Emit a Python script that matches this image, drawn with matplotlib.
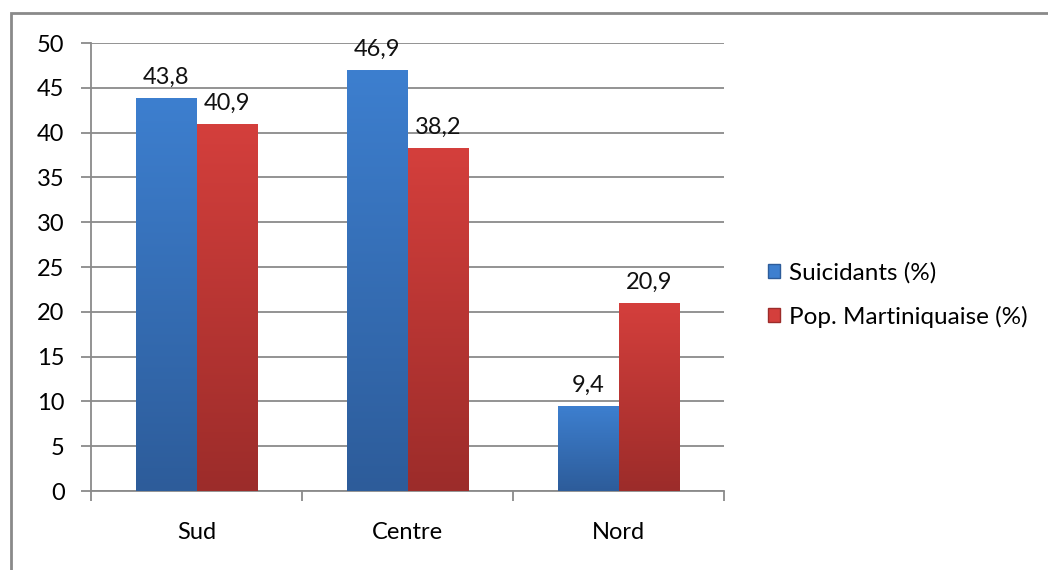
import matplotlib
matplotlib.use("Agg")
import matplotlib.pyplot as plt
import numpy as np
from matplotlib.colors import LinearSegmentedColormap
from matplotlib.patches import Patch, Rectangle

plt.rcParams['font.family'] = ['Lato', 'DejaVu Sans']

# data
regions = ["Sud", "Centre", "Nord"]
suicidants = [43.8, 46.9, 9.4]
population = [40.9, 38.2, 20.9]
labels_suic = ["43,8", "46,9", "9,4"]
labels_pop = ["40,9", "38,2", "20,9"]
series_names = ["Suicidants (%)", "Pop. Martiniquaise (%)"]

blue_top, blue_bot = "#3d7fcf", "#2d5c9a"
red_top, red_bot = "#d43f3c", "#9c2c2a"

fs = 17
fig = plt.figure(figsize=(10.48, 5.70), dpi=100)
ax = fig.add_axes([91/1048, 1 - 491/570, (724 - 91)/1048, (491 - 43)/570])

gray = "#8a8a8a"
width = 0.289
x = np.arange(len(regions))


def grad_bars(xs, vals, top, bot):
    cmap = LinearSegmentedColormap.from_list("g", [bot, top])
    grad = np.linspace(0, 1, 256).reshape(-1, 1)
    for xc, v in zip(xs, vals):
        ax.imshow(grad, cmap=cmap, origin="lower", aspect="auto",
                  extent=(xc - width/2, xc + width/2, 0, v), zorder=3)


grad_bars(x - width/2, suicidants, blue_top, blue_bot)
grad_bars(x + width/2, population, red_top, red_bot)

for xc, v, t in zip(x - width/2, suicidants, labels_suic):
    ax.annotate(t, (xc, v), xytext=(0, 8), textcoords="offset points",
                ha="center", va="bottom", fontsize=fs, color="#111111")
for xc, v, t in zip(x + width/2, population, labels_pop):
    ax.annotate(t, (xc, v), xytext=(0, 8), textcoords="offset points",
                ha="center", va="bottom", fontsize=fs, color="#111111")

ax.set_xlim(-0.5, len(regions) - 0.5)
ax.set_ylim(0, 50)
ax.set_yticks(np.arange(0, 51, 5))
ax.yaxis.grid(True, color=gray, linewidth=1.3, zorder=0)
ax.set_axisbelow(True)

ax.set_xticks(np.arange(len(regions) + 1) - 0.5)
ax.set_xticklabels([])
ax.set_xticks(x, minor=True)
ax.set_xticklabels(regions, minor=True, fontsize=fs)
ax.tick_params(axis="x", which="minor", length=0, pad=22)
ax.tick_params(axis="x", which="major", length=7, width=1.3, color=gray)
ax.tick_params(axis="y", length=7, width=1.3, color=gray, labelsize=fs, pad=12)

for s in ["top", "right"]:
    ax.spines[s].set_visible(False)
for s in ["left", "bottom"]:
    ax.spines[s].set_color(gray)
    ax.spines[s].set_linewidth(1.3)

handles = [Patch(facecolor=blue_top, edgecolor=blue_bot),
           Patch(facecolor=red_top, edgecolor=red_bot)]
fig.legend(handles, series_names, loc="center left",
           bbox_to_anchor=(746/1048, 1 - 295/570), frameon=False,
           fontsize=17.5, handlelength=0.5, handleheight=0.5,
           handletextpad=0.35, labelspacing=0.9)

# outer chart border
fig.add_artist(Rectangle((10.5/1048, -0.1), 1.2, 1 - 13.5/570 + 0.1,
                         transform=fig.transFigure, fill=False,
                         edgecolor=gray, linewidth=2, clip_on=False))

fig.savefig("out.png", dpi=100)
